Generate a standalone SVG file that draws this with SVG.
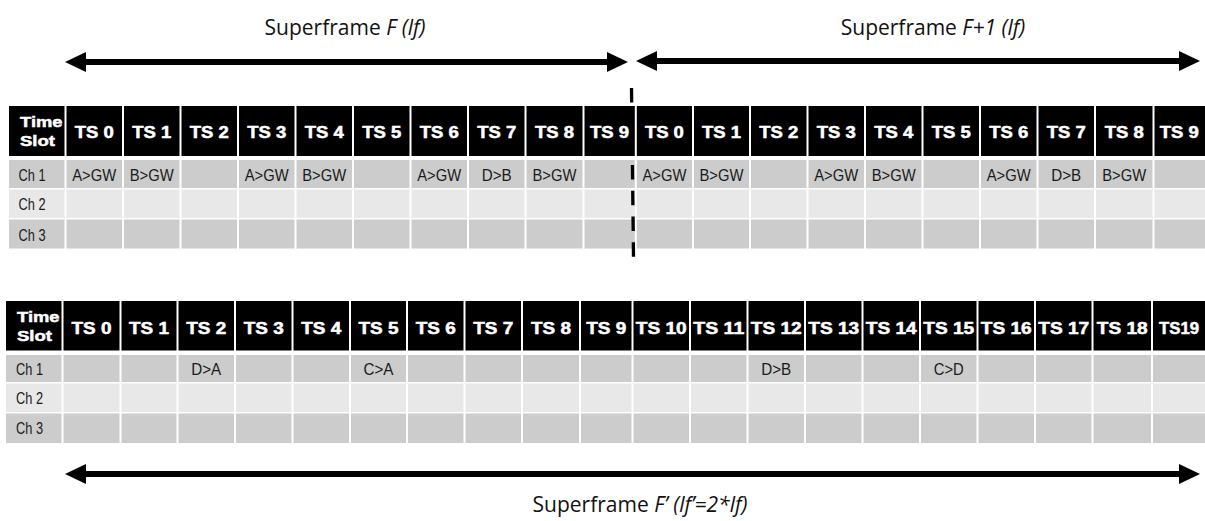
<svg xmlns="http://www.w3.org/2000/svg" width="1205" height="521" viewBox="0 0 1205 521">
<style>
.bg{fill:#fff}
.h{fill:#000}
.r1{fill:#cccccc}
.r2{fill:#e8e8e8}
.th{font-family:"Liberation Sans",Arial,sans-serif;font-weight:bold;font-size:16px;fill:#fff;stroke:#fff;stroke-width:0.5;text-anchor:middle}
.tl{font-family:"Liberation Sans",Arial,sans-serif;font-weight:bold;font-size:15.5px;fill:#fff;stroke:#fff;stroke-width:0.5}
.td{font-family:"Liberation Sans",Arial,sans-serif;font-size:17px;fill:#1a1a1a;text-anchor:middle}
.tc{font-family:"Liberation Sans",Arial,sans-serif;font-size:17px;fill:#1a1a1a}
.lbl{font-family:"Open Sans","Liberation Sans",sans-serif;font-size:21px;fill:#111;text-anchor:middle}
.arr{stroke:#000;stroke-width:6;fill:none}
.dash{stroke:#000;stroke-width:3.3;stroke-dasharray:14.5 11.2;fill:none}
</style>
<defs>
<marker id="ah" viewBox="0 0 21 20" refX="11" refY="10" markerWidth="21" markerHeight="20" markerUnits="userSpaceOnUse" orient="auto-start-reverse">
<path d="M0,0 L21,10 L0,20 z" fill="#000"/>
</marker>
</defs>
<rect class="bg" x="0" y="0" width="1205" height="521"/>

<g id="table-top">
<g id="top-header">
<rect class="h" x="9" y="106" width="55.5" height="50"/>
<rect class="h" x="66.5" y="106" width="55.5" height="50"/>
<rect class="h" x="124" y="106" width="55.5" height="50"/>
<rect class="h" x="181.5" y="106" width="55.5" height="50"/>
<rect class="h" x="239" y="106" width="55.5" height="50"/>
<rect class="h" x="296.5" y="106" width="55.5" height="50"/>
<rect class="h" x="354" y="106" width="55.5" height="50"/>
<rect class="h" x="411.5" y="106" width="55.5" height="50"/>
<rect class="h" x="469" y="106" width="55.5" height="50"/>
<rect class="h" x="526.5" y="106" width="56" height="50"/>
<rect class="h" x="584.5" y="106" width="50.3" height="50"/>
<rect class="h" x="636.8" y="106" width="55.2" height="50"/>
<rect class="h" x="694" y="106" width="55" height="50"/>
<rect class="h" x="751" y="106" width="55.5" height="50"/>
<rect class="h" x="808.5" y="106" width="55.5" height="50"/>
<rect class="h" x="866" y="106" width="55.5" height="50"/>
<rect class="h" x="923.5" y="106" width="55.5" height="50"/>
<rect class="h" x="981" y="106" width="55.5" height="50"/>
<rect class="h" x="1038.5" y="106" width="55.5" height="50"/>
<rect class="h" x="1096" y="106" width="56.5" height="50"/>
<rect class="h" x="1154.5" y="106" width="50.5" height="50"/>
<text class="tl" x="20" y="126.5" textLength="42.5" lengthAdjust="spacingAndGlyphs">Time</text>
<text class="tl" x="20" y="145.5" textLength="35" lengthAdjust="spacingAndGlyphs">Slot</text>
<text class="th" x="94.25" y="138" textLength="39" lengthAdjust="spacingAndGlyphs">TS 0</text>
<text class="th" x="151.75" y="138" textLength="39" lengthAdjust="spacingAndGlyphs">TS 1</text>
<text class="th" x="209.25" y="138" textLength="39" lengthAdjust="spacingAndGlyphs">TS 2</text>
<text class="th" x="266.75" y="138" textLength="39" lengthAdjust="spacingAndGlyphs">TS 3</text>
<text class="th" x="324.25" y="138" textLength="39" lengthAdjust="spacingAndGlyphs">TS 4</text>
<text class="th" x="381.75" y="138" textLength="39" lengthAdjust="spacingAndGlyphs">TS 5</text>
<text class="th" x="439.25" y="138" textLength="39" lengthAdjust="spacingAndGlyphs">TS 6</text>
<text class="th" x="496.75" y="138" textLength="39" lengthAdjust="spacingAndGlyphs">TS 7</text>
<text class="th" x="554.5" y="138" textLength="39" lengthAdjust="spacingAndGlyphs">TS 8</text>
<text class="th" x="609.6" y="138" textLength="39" lengthAdjust="spacingAndGlyphs">TS 9</text>
<text class="th" x="664.4" y="138" textLength="39" lengthAdjust="spacingAndGlyphs">TS 0</text>
<text class="th" x="721.5" y="138" textLength="39" lengthAdjust="spacingAndGlyphs">TS 1</text>
<text class="th" x="778.75" y="138" textLength="39" lengthAdjust="spacingAndGlyphs">TS 2</text>
<text class="th" x="836.25" y="138" textLength="39" lengthAdjust="spacingAndGlyphs">TS 3</text>
<text class="th" x="893.75" y="138" textLength="39" lengthAdjust="spacingAndGlyphs">TS 4</text>
<text class="th" x="951.25" y="138" textLength="39" lengthAdjust="spacingAndGlyphs">TS 5</text>
<text class="th" x="1008.75" y="138" textLength="39" lengthAdjust="spacingAndGlyphs">TS 6</text>
<text class="th" x="1066.25" y="138" textLength="39" lengthAdjust="spacingAndGlyphs">TS 7</text>
<text class="th" x="1124.25" y="138" textLength="39" lengthAdjust="spacingAndGlyphs">TS 8</text>
<text class="th" x="1179.25" y="138" textLength="39" lengthAdjust="spacingAndGlyphs">TS 9</text>
</g>
<g id="top-ch1">
<rect class="r1" x="9" y="160" width="55.5" height="28"/>
<rect class="r1" x="66.5" y="160" width="55.5" height="28"/>
<rect class="r1" x="124" y="160" width="55.5" height="28"/>
<rect class="r1" x="181.5" y="160" width="55.5" height="28"/>
<rect class="r1" x="239" y="160" width="55.5" height="28"/>
<rect class="r1" x="296.5" y="160" width="55.5" height="28"/>
<rect class="r1" x="354" y="160" width="55.5" height="28"/>
<rect class="r1" x="411.5" y="160" width="55.5" height="28"/>
<rect class="r1" x="469" y="160" width="55.5" height="28"/>
<rect class="r1" x="526.5" y="160" width="56" height="28"/>
<rect class="r1" x="584.5" y="160" width="50.3" height="28"/>
<rect class="r1" x="636.8" y="160" width="55.2" height="28"/>
<rect class="r1" x="694" y="160" width="55" height="28"/>
<rect class="r1" x="751" y="160" width="55.5" height="28"/>
<rect class="r1" x="808.5" y="160" width="55.5" height="28"/>
<rect class="r1" x="866" y="160" width="55.5" height="28"/>
<rect class="r1" x="923.5" y="160" width="55.5" height="28"/>
<rect class="r1" x="981" y="160" width="55.5" height="28"/>
<rect class="r1" x="1038.5" y="160" width="55.5" height="28"/>
<rect class="r1" x="1096" y="160" width="56.5" height="28"/>
<rect class="r1" x="1154.5" y="160" width="50.5" height="28"/>
<text class="tc" x="18.5" y="180.5" textLength="27" lengthAdjust="spacingAndGlyphs">Ch 1</text>
<text class="td" x="94.25" y="180.5" textLength="44" lengthAdjust="spacingAndGlyphs">A&gt;GW</text>
<text class="td" x="151.75" y="180.5" textLength="44" lengthAdjust="spacingAndGlyphs">B&gt;GW</text>
<text class="td" x="266.75" y="180.5" textLength="44" lengthAdjust="spacingAndGlyphs">A&gt;GW</text>
<text class="td" x="324.25" y="180.5" textLength="44" lengthAdjust="spacingAndGlyphs">B&gt;GW</text>
<text class="td" x="439.25" y="180.5" textLength="44" lengthAdjust="spacingAndGlyphs">A&gt;GW</text>
<text class="td" x="496.75" y="180.5" textLength="30" lengthAdjust="spacingAndGlyphs">D&gt;B</text>
<text class="td" x="554.5" y="180.5" textLength="44" lengthAdjust="spacingAndGlyphs">B&gt;GW</text>
<text class="td" x="664.4" y="180.5" textLength="44" lengthAdjust="spacingAndGlyphs">A&gt;GW</text>
<text class="td" x="721.5" y="180.5" textLength="44" lengthAdjust="spacingAndGlyphs">B&gt;GW</text>
<text class="td" x="836.25" y="180.5" textLength="44" lengthAdjust="spacingAndGlyphs">A&gt;GW</text>
<text class="td" x="893.75" y="180.5" textLength="44" lengthAdjust="spacingAndGlyphs">B&gt;GW</text>
<text class="td" x="1008.75" y="180.5" textLength="44" lengthAdjust="spacingAndGlyphs">A&gt;GW</text>
<text class="td" x="1066.25" y="180.5" textLength="30" lengthAdjust="spacingAndGlyphs">D&gt;B</text>
<text class="td" x="1124.25" y="180.5" textLength="44" lengthAdjust="spacingAndGlyphs">B&gt;GW</text>
</g>
<g id="top-ch2">
<rect class="r2" x="9" y="189.5" width="55.5" height="28.5"/>
<rect class="r2" x="66.5" y="189.5" width="55.5" height="28.5"/>
<rect class="r2" x="124" y="189.5" width="55.5" height="28.5"/>
<rect class="r2" x="181.5" y="189.5" width="55.5" height="28.5"/>
<rect class="r2" x="239" y="189.5" width="55.5" height="28.5"/>
<rect class="r2" x="296.5" y="189.5" width="55.5" height="28.5"/>
<rect class="r2" x="354" y="189.5" width="55.5" height="28.5"/>
<rect class="r2" x="411.5" y="189.5" width="55.5" height="28.5"/>
<rect class="r2" x="469" y="189.5" width="55.5" height="28.5"/>
<rect class="r2" x="526.5" y="189.5" width="56" height="28.5"/>
<rect class="r2" x="584.5" y="189.5" width="50.3" height="28.5"/>
<rect class="r2" x="636.8" y="189.5" width="55.2" height="28.5"/>
<rect class="r2" x="694" y="189.5" width="55" height="28.5"/>
<rect class="r2" x="751" y="189.5" width="55.5" height="28.5"/>
<rect class="r2" x="808.5" y="189.5" width="55.5" height="28.5"/>
<rect class="r2" x="866" y="189.5" width="55.5" height="28.5"/>
<rect class="r2" x="923.5" y="189.5" width="55.5" height="28.5"/>
<rect class="r2" x="981" y="189.5" width="55.5" height="28.5"/>
<rect class="r2" x="1038.5" y="189.5" width="55.5" height="28.5"/>
<rect class="r2" x="1096" y="189.5" width="56.5" height="28.5"/>
<rect class="r2" x="1154.5" y="189.5" width="50.5" height="28.5"/>
<text class="tc" x="18.5" y="210" textLength="27" lengthAdjust="spacingAndGlyphs">Ch 2</text>
</g>
<g id="top-ch3">
<rect class="r1" x="9" y="219.5" width="55.5" height="29"/>
<rect class="r1" x="66.5" y="219.5" width="55.5" height="29"/>
<rect class="r1" x="124" y="219.5" width="55.5" height="29"/>
<rect class="r1" x="181.5" y="219.5" width="55.5" height="29"/>
<rect class="r1" x="239" y="219.5" width="55.5" height="29"/>
<rect class="r1" x="296.5" y="219.5" width="55.5" height="29"/>
<rect class="r1" x="354" y="219.5" width="55.5" height="29"/>
<rect class="r1" x="411.5" y="219.5" width="55.5" height="29"/>
<rect class="r1" x="469" y="219.5" width="55.5" height="29"/>
<rect class="r1" x="526.5" y="219.5" width="56" height="29"/>
<rect class="r1" x="584.5" y="219.5" width="50.3" height="29"/>
<rect class="r1" x="636.8" y="219.5" width="55.2" height="29"/>
<rect class="r1" x="694" y="219.5" width="55" height="29"/>
<rect class="r1" x="751" y="219.5" width="55.5" height="29"/>
<rect class="r1" x="808.5" y="219.5" width="55.5" height="29"/>
<rect class="r1" x="866" y="219.5" width="55.5" height="29"/>
<rect class="r1" x="923.5" y="219.5" width="55.5" height="29"/>
<rect class="r1" x="981" y="219.5" width="55.5" height="29"/>
<rect class="r1" x="1038.5" y="219.5" width="55.5" height="29"/>
<rect class="r1" x="1096" y="219.5" width="56.5" height="29"/>
<rect class="r1" x="1154.5" y="219.5" width="50.5" height="29"/>
<text class="tc" x="18.5" y="240.5" textLength="27" lengthAdjust="spacingAndGlyphs">Ch 3</text>
</g>
</g>

<g id="table-bottom">
<g id="bot-header">
<rect class="h" x="6" y="301" width="55.5" height="49.5"/>
<rect class="h" x="63.5" y="301" width="56" height="49.5"/>
<rect class="h" x="121.5" y="301" width="55" height="49.5"/>
<rect class="h" x="178.5" y="301" width="55.5" height="49.5"/>
<rect class="h" x="236" y="301" width="55.5" height="49.5"/>
<rect class="h" x="293.5" y="301" width="55.5" height="49.5"/>
<rect class="h" x="351" y="301" width="55" height="49.5"/>
<rect class="h" x="408" y="301" width="55.5" height="49.5"/>
<rect class="h" x="465.5" y="301" width="55.5" height="49.5"/>
<rect class="h" x="523" y="301" width="56" height="49.5"/>
<rect class="h" x="581" y="301" width="50.5" height="49.5"/>
<rect class="h" x="633.5" y="301" width="55.5" height="49.5"/>
<rect class="h" x="691" y="301" width="55.5" height="49.5"/>
<rect class="h" x="748.5" y="301" width="55.5" height="49.5"/>
<rect class="h" x="806" y="301" width="55.5" height="49.5"/>
<rect class="h" x="863.5" y="301" width="55.5" height="49.5"/>
<rect class="h" x="921" y="301" width="55.5" height="49.5"/>
<rect class="h" x="978.5" y="301" width="55.5" height="49.5"/>
<rect class="h" x="1036" y="301" width="55.5" height="49.5"/>
<rect class="h" x="1093.5" y="301" width="57.5" height="49.5"/>
<rect class="h" x="1153" y="301" width="52" height="49.5"/>
<text class="tl" x="17" y="322" textLength="42.5" lengthAdjust="spacingAndGlyphs">Time</text>
<text class="tl" x="17" y="341" textLength="35" lengthAdjust="spacingAndGlyphs">Slot</text>
<text class="th" x="91.5" y="334" textLength="40" lengthAdjust="spacingAndGlyphs">TS 0</text>
<text class="th" x="149" y="334" textLength="40" lengthAdjust="spacingAndGlyphs">TS 1</text>
<text class="th" x="206.25" y="334" textLength="40" lengthAdjust="spacingAndGlyphs">TS 2</text>
<text class="th" x="263.75" y="334" textLength="40" lengthAdjust="spacingAndGlyphs">TS 3</text>
<text class="th" x="321.25" y="334" textLength="40" lengthAdjust="spacingAndGlyphs">TS 4</text>
<text class="th" x="378.5" y="334" textLength="40" lengthAdjust="spacingAndGlyphs">TS 5</text>
<text class="th" x="435.75" y="334" textLength="40" lengthAdjust="spacingAndGlyphs">TS 6</text>
<text class="th" x="493.25" y="334" textLength="40" lengthAdjust="spacingAndGlyphs">TS 7</text>
<text class="th" x="551" y="334" textLength="40" lengthAdjust="spacingAndGlyphs">TS 8</text>
<text class="th" x="606.25" y="334" textLength="40" lengthAdjust="spacingAndGlyphs">TS 9</text>
<text class="th" x="661.25" y="334" textLength="51" lengthAdjust="spacingAndGlyphs">TS 10</text>
<text class="th" x="718.75" y="334" textLength="51" lengthAdjust="spacingAndGlyphs">TS 11</text>
<text class="th" x="776.25" y="334" textLength="51" lengthAdjust="spacingAndGlyphs">TS 12</text>
<text class="th" x="833.75" y="334" textLength="51" lengthAdjust="spacingAndGlyphs">TS 13</text>
<text class="th" x="891.25" y="334" textLength="51" lengthAdjust="spacingAndGlyphs">TS 14</text>
<text class="th" x="948.75" y="334" textLength="51" lengthAdjust="spacingAndGlyphs">TS 15</text>
<text class="th" x="1006.25" y="334" textLength="51" lengthAdjust="spacingAndGlyphs">TS 16</text>
<text class="th" x="1063.75" y="334" textLength="51" lengthAdjust="spacingAndGlyphs">TS 17</text>
<text class="th" x="1122.25" y="334" textLength="51" lengthAdjust="spacingAndGlyphs">TS 18</text>
<text class="th" x="1179" y="334" textLength="40" lengthAdjust="spacingAndGlyphs">TS19</text>
</g>
<g id="bot-ch1">
<rect class="r1" x="6" y="355" width="55.5" height="27"/>
<rect class="r1" x="63.5" y="355" width="56" height="27"/>
<rect class="r1" x="121.5" y="355" width="55" height="27"/>
<rect class="r1" x="178.5" y="355" width="55.5" height="27"/>
<rect class="r1" x="236" y="355" width="55.5" height="27"/>
<rect class="r1" x="293.5" y="355" width="55.5" height="27"/>
<rect class="r1" x="351" y="355" width="55" height="27"/>
<rect class="r1" x="408" y="355" width="55.5" height="27"/>
<rect class="r1" x="465.5" y="355" width="55.5" height="27"/>
<rect class="r1" x="523" y="355" width="56" height="27"/>
<rect class="r1" x="581" y="355" width="50.5" height="27"/>
<rect class="r1" x="633.5" y="355" width="55.5" height="27"/>
<rect class="r1" x="691" y="355" width="55.5" height="27"/>
<rect class="r1" x="748.5" y="355" width="55.5" height="27"/>
<rect class="r1" x="806" y="355" width="55.5" height="27"/>
<rect class="r1" x="863.5" y="355" width="55.5" height="27"/>
<rect class="r1" x="921" y="355" width="55.5" height="27"/>
<rect class="r1" x="978.5" y="355" width="55.5" height="27"/>
<rect class="r1" x="1036" y="355" width="55.5" height="27"/>
<rect class="r1" x="1093.5" y="355" width="57.5" height="27"/>
<rect class="r1" x="1153" y="355" width="52" height="27"/>
<text class="tc" x="16" y="375" textLength="27" lengthAdjust="spacingAndGlyphs">Ch 1</text>
<text class="td" x="206.25" y="375" textLength="30" lengthAdjust="spacingAndGlyphs">D&gt;A</text>
<text class="td" x="378.5" y="375" textLength="30" lengthAdjust="spacingAndGlyphs">C&gt;A</text>
<text class="td" x="776.25" y="375" textLength="30" lengthAdjust="spacingAndGlyphs">D&gt;B</text>
<text class="td" x="948.75" y="375" textLength="30" lengthAdjust="spacingAndGlyphs">C&gt;D</text>
</g>
<g id="bot-ch2">
<rect class="r2" x="6" y="383.5" width="55.5" height="28.5"/>
<rect class="r2" x="63.5" y="383.5" width="56" height="28.5"/>
<rect class="r2" x="121.5" y="383.5" width="55" height="28.5"/>
<rect class="r2" x="178.5" y="383.5" width="55.5" height="28.5"/>
<rect class="r2" x="236" y="383.5" width="55.5" height="28.5"/>
<rect class="r2" x="293.5" y="383.5" width="55.5" height="28.5"/>
<rect class="r2" x="351" y="383.5" width="55" height="28.5"/>
<rect class="r2" x="408" y="383.5" width="55.5" height="28.5"/>
<rect class="r2" x="465.5" y="383.5" width="55.5" height="28.5"/>
<rect class="r2" x="523" y="383.5" width="56" height="28.5"/>
<rect class="r2" x="581" y="383.5" width="50.5" height="28.5"/>
<rect class="r2" x="633.5" y="383.5" width="55.5" height="28.5"/>
<rect class="r2" x="691" y="383.5" width="55.5" height="28.5"/>
<rect class="r2" x="748.5" y="383.5" width="55.5" height="28.5"/>
<rect class="r2" x="806" y="383.5" width="55.5" height="28.5"/>
<rect class="r2" x="863.5" y="383.5" width="55.5" height="28.5"/>
<rect class="r2" x="921" y="383.5" width="55.5" height="28.5"/>
<rect class="r2" x="978.5" y="383.5" width="55.5" height="28.5"/>
<rect class="r2" x="1036" y="383.5" width="55.5" height="28.5"/>
<rect class="r2" x="1093.5" y="383.5" width="57.5" height="28.5"/>
<rect class="r2" x="1153" y="383.5" width="52" height="28.5"/>
<text class="tc" x="16" y="404" textLength="27" lengthAdjust="spacingAndGlyphs">Ch 2</text>
</g>
<g id="bot-ch3">
<rect class="r1" x="6" y="413.5" width="55.5" height="29.5"/>
<rect class="r1" x="63.5" y="413.5" width="56" height="29.5"/>
<rect class="r1" x="121.5" y="413.5" width="55" height="29.5"/>
<rect class="r1" x="178.5" y="413.5" width="55.5" height="29.5"/>
<rect class="r1" x="236" y="413.5" width="55.5" height="29.5"/>
<rect class="r1" x="293.5" y="413.5" width="55.5" height="29.5"/>
<rect class="r1" x="351" y="413.5" width="55" height="29.5"/>
<rect class="r1" x="408" y="413.5" width="55.5" height="29.5"/>
<rect class="r1" x="465.5" y="413.5" width="55.5" height="29.5"/>
<rect class="r1" x="523" y="413.5" width="56" height="29.5"/>
<rect class="r1" x="581" y="413.5" width="50.5" height="29.5"/>
<rect class="r1" x="633.5" y="413.5" width="55.5" height="29.5"/>
<rect class="r1" x="691" y="413.5" width="55.5" height="29.5"/>
<rect class="r1" x="748.5" y="413.5" width="55.5" height="29.5"/>
<rect class="r1" x="806" y="413.5" width="55.5" height="29.5"/>
<rect class="r1" x="863.5" y="413.5" width="55.5" height="29.5"/>
<rect class="r1" x="921" y="413.5" width="55.5" height="29.5"/>
<rect class="r1" x="978.5" y="413.5" width="55.5" height="29.5"/>
<rect class="r1" x="1036" y="413.5" width="55.5" height="29.5"/>
<rect class="r1" x="1093.5" y="413.5" width="57.5" height="29.5"/>
<rect class="r1" x="1153" y="413.5" width="52" height="29.5"/>
<text class="tc" x="16" y="434.3" textLength="27" lengthAdjust="spacingAndGlyphs">Ch 3</text>
</g>
</g>

<g id="labels">
<text id="label-f" class="lbl" x="345" y="35">Superframe <tspan font-style="italic">F (lf)</tspan></text>
<text id="label-f1" class="lbl" x="933" y="35">Superframe <tspan font-style="italic">F+1 (lf)</tspan></text>
<text id="label-f2" class="lbl" x="640" y="512">Superframe <tspan font-style="italic">F’ (lf’=2*lf)</tspan></text>
</g>

<g id="connectors">
<line class="arr" x1="75" y1="62" x2="618" y2="62" marker-start="url(#ah)" marker-end="url(#ah)"/>
<line class="arr" x1="646" y1="61" x2="1190" y2="61" marker-start="url(#ah)" marker-end="url(#ah)"/>
<line class="arr" x1="75" y1="474" x2="1190" y2="474" marker-start="url(#ah)" marker-end="url(#ah)"/>
<line class="dash" x1="631.5" y1="88" x2="633.5" y2="257"/>
</g>
</svg>
